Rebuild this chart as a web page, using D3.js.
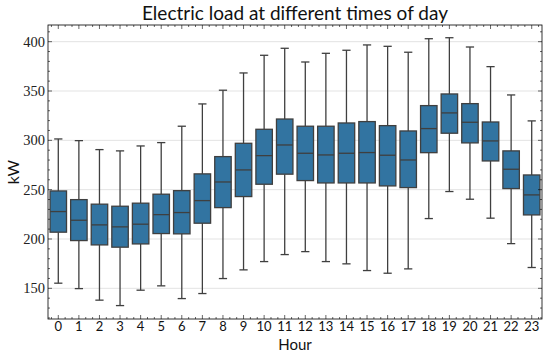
<!DOCTYPE html>
<html><head><meta charset="utf-8">
<script src="https://cdn.jsdelivr.net/npm/d3@7"></script>
<style>body{margin:0;background:#fff}svg{display:block}</style>
</head><body>
<script>
const hours = d3.range(24).map(String);
const whiskerLow  = [155.2,149.7,138.0,132.5,148.1,152.5,139.6,144.7,159.9,168.7,177.1,184.2,187.2,177.1,174.8,168.0,165.3,169.7,220.7,248.1,240.3,221.1,195.3,171.1];
const q1          = [206.9,198.4,194.0,191.7,195.0,205.5,205.2,216.0,231.8,243.0,255.5,265.7,259.2,256.8,256.8,256.8,253.8,252.1,287.5,307.2,297.4,279.1,251.1,224.4];
const medians     = [227.8,219.0,214.3,212.3,215.0,224.7,226.8,238.9,257.8,270.0,284.5,295.3,286.9,285.2,286.9,287.6,284.9,280.1,311.9,327.8,318.3,299.4,270.7,244.7];
const q3          = [248.7,239.9,235.3,233.2,236.3,245.4,249.0,266.0,283.5,297.0,311.2,321.6,314.3,314.3,317.6,319.0,314.9,309.5,335.2,347.0,337.2,318.6,289.3,264.9];
const whiskerHigh = [301.4,299.7,290.6,289.3,294.3,297.7,314.3,336.9,350.8,368.3,386.2,393.3,379.4,388.2,391.3,396.7,395.3,389.3,403.0,404.0,394.6,374.7,346.0,319.7];
const yTicks = [150,200,250,300,350,400];

const W = 550, H = 355;
const m = {l:48, r:8, t:25, b:36};
const svg = d3.select("body").append("svg").attr("width",W).attr("height",H);
const x = d3.scaleBand().domain(hours).range([m.l, W-m.r]).padding(0);
const y = d3.scaleLinear().domain([118.9, 416.9]).range([H-m.b, m.t]);

const data = hours.map((h,i)=>({h, lo:whiskerLow[i], q1:q1[i], med:medians[i], q3:q3[i], hi:whiskerHigh[i]}));

// grid
svg.append("g").selectAll("line").data(yTicks).join("line")
  .attr("x1", m.l).attr("x2", W-m.r).attr("y1", d=>y(d)).attr("y2", d=>y(d))
  .attr("stroke", "#e3e3e3").attr("stroke-width", 1);

const lineCol = "#3f3f3f", fill = "#3274a1";
const bw = x.bandwidth()*0.8;
const g = svg.append("g").selectAll("g").data(data).join("g")
  .attr("transform", d=>`translate(${x(d.h)+x.bandwidth()/2},0)`);
g.append("line").attr("y1", d=>y(d.lo)).attr("y2", d=>y(d.q1)).attr("stroke", lineCol).attr("stroke-width",1.3);
g.append("line").attr("y1", d=>y(d.q3)).attr("y2", d=>y(d.hi)).attr("stroke", lineCol).attr("stroke-width",1.3);
g.append("line").attr("x1",-bw/4).attr("x2",bw/4).attr("y1", d=>y(d.lo)).attr("y2", d=>y(d.lo)).attr("stroke", lineCol).attr("stroke-width",1.3);
g.append("line").attr("x1",-bw/4).attr("x2",bw/4).attr("y1", d=>y(d.hi)).attr("y2", d=>y(d.hi)).attr("stroke", lineCol).attr("stroke-width",1.3);
g.append("rect").attr("x",-bw/2).attr("width",bw).attr("y", d=>y(d.q3)).attr("height", d=>y(d.q1)-y(d.q3))
  .attr("fill", fill).attr("stroke", lineCol).attr("stroke-width",1.3);
g.append("line").attr("x1",-bw/2).attr("x2",bw/2).attr("y1", d=>y(d.med)).attr("y2", d=>y(d.med)).attr("stroke", lineCol).attr("stroke-width",1.3);

// frame
svg.append("rect").attr("x",m.l).attr("y",m.t).attr("width",W-m.l-m.r).attr("height",H-m.t-m.b)
  .attr("fill","none").attr("stroke","#000").attr("stroke-width",0.8);

// ticks (inward, all sides)
const minorY = d3.range(120, 417, 10).filter(v=>!yTicks.includes(v));
const tk = svg.append("g").attr("stroke","#000").attr("stroke-width",0.6);
yTicks.forEach(v=>{
  tk.append("line").attr("x1",m.l).attr("x2",m.l+4).attr("y1",y(v)).attr("y2",y(v));
  tk.append("line").attr("x1",W-m.r).attr("x2",W-m.r-4).attr("y1",y(v)).attr("y2",y(v));
});
minorY.forEach(v=>{
  tk.append("line").attr("x1",m.l).attr("x2",m.l+2).attr("y1",y(v)).attr("y2",y(v));
  tk.append("line").attr("x1",W-m.r).attr("x2",W-m.r-2).attr("y1",y(v)).attr("y2",y(v));
});
hours.forEach(h=>{
  const cx = x(h)+x.bandwidth()/2;
  tk.append("line").attr("x1",cx).attr("x2",cx).attr("y1",H-m.b).attr("y2",H-m.b-4);
  tk.append("line").attr("x1",cx).attr("x2",cx).attr("y1",m.t).attr("y2",m.t+4);
  [-1/3, 1/3].forEach(o=>{
    const mx = cx + o*x.bandwidth();
    tk.append("line").attr("x1",mx).attr("x2",mx).attr("y1",H-m.b).attr("y2",H-m.b-2);
    tk.append("line").attr("x1",mx).attr("x2",mx).attr("y1",m.t).attr("y2",m.t+2);
  });
});

// tick labels
svg.append("g").selectAll("text").data(yTicks).join("text")
  .attr("x", m.l-3).attr("y", d=>y(d)).attr("dy","0.35em").attr("text-anchor","end")
  .attr("font-family","'Liberation Serif', serif").attr("font-size",14.5).attr("fill","#222").text(d=>d);
svg.append("g").selectAll("text").data(hours).join("text")
  .attr("x", d=>x(d)+x.bandwidth()/2).attr("y", 331).attr("text-anchor","middle")
  .attr("font-family","Lato, 'Open Sans', sans-serif").attr("font-size",13).attr("fill","#111").text(d=>d);

// axis labels & title
svg.append("text").attr("x",(m.l+W-m.r)/2).attr("y",350).attr("text-anchor","middle")
  .attr("font-family","Lato, sans-serif").attr("font-size",15).attr("fill","#111").text("Hour");
svg.append("text").attr("transform",`translate(19,${(m.t+H-m.b)/2}) rotate(-90)`).attr("text-anchor","middle")
  .attr("font-family","Lato, sans-serif").attr("font-size",16).attr("fill","#111").text("kW");
svg.append("text").attr("x",(m.l+W-m.r)/2).attr("y",20).attr("text-anchor","middle")
  .attr("font-family","Lato, sans-serif").attr("font-size",19).attr("fill","#111").text("Electric load at different times of day");
</script>
</body></html>
